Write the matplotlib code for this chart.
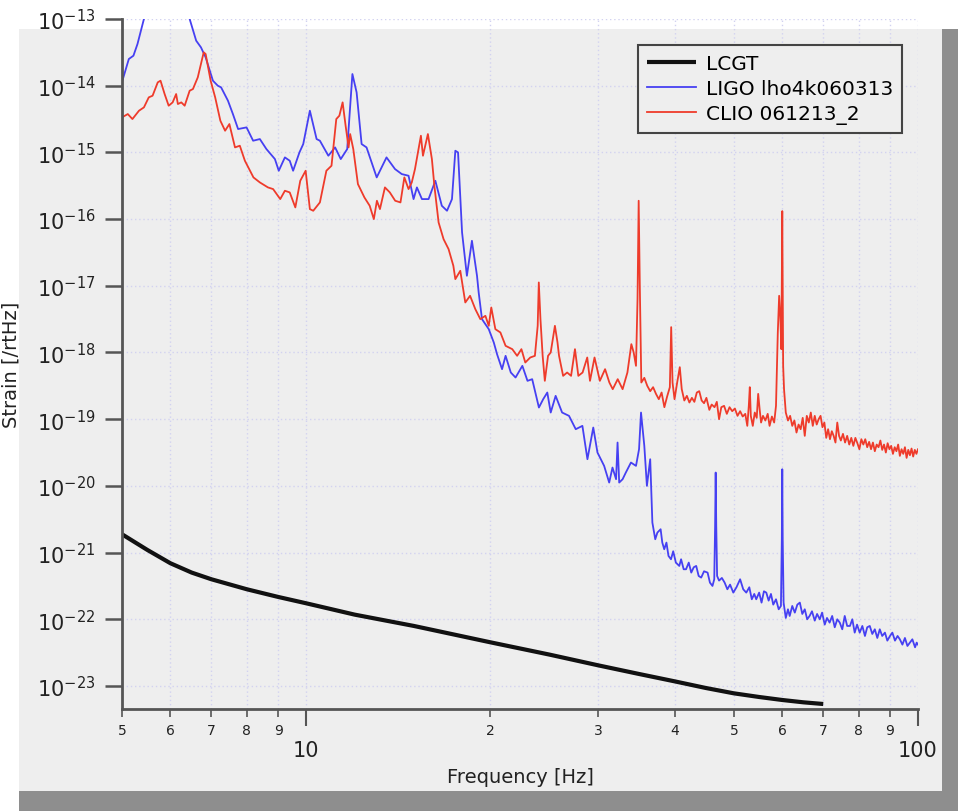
import numpy as np
import matplotlib
matplotlib.use("Agg")
import matplotlib.pyplot as plt
from matplotlib.patches import Rectangle
from matplotlib.ticker import FixedLocator, FixedFormatter, LogLocator, NullLocator

plt.rcParams['font.family'] = ['DejaVu Sans']
plt.rcParams['mathtext.default'] = 'regular'

# values: frequency in Hz, strain given as log10
lcgt_freq = [5.0, 5.5, 6.0, 6.5, 7.0, 8.0, 9.0, 10.0, 12.0, 15.0, 20.0, 25.0,
             30.0, 35.0, 40.0, 45.0, 50.0, 55.0, 60.0, 65.0, 70.0]
lcgt_log10 = [-20.725, -20.96, -21.16, -21.30, -21.40, -21.55, -21.665, -21.76,
              -21.93, -22.10, -22.345, -22.53, -22.69, -22.82, -22.93, -23.03,
              -23.11, -23.165, -23.21, -23.245, -23.27]

ligo_freq = [5.0, 5.13, 5.22, 5.30, 5.43, 5.6, 6.0, 6.3, 6.45, 6.61, 6.73, 6.85,
             7.04, 7.17, 7.26, 7.45, 7.59, 7.74, 7.99, 8.19, 8.40, 8.61, 8.89,
             9.02, 9.23, 9.40, 9.52, 9.75, 9.89, 10.14, 10.40, 10.53, 10.87,
             11.15, 11.39, 11.67, 11.90, 12.09, 12.32, 12.55, 13.04, 13.53,
             13.97, 14.33, 14.70, 14.98, 15.17, 15.46, 15.85, 16.26, 16.66,
             16.99, 17.31, 17.53, 17.71, 17.98, 18.31, 18.66, 19.02, 19.14,
             19.38, 19.88, 20.26, 20.51, 20.90, 21.18, 21.6, 21.99, 22.56, 23.0,
             23.41, 24.01, 24.4, 24.78, 25.10, 25.57, 26.2, 26.89, 27.58, 28.28,
             28.82, 29.46, 29.93, 30.69, 31.28, 31.67, 32.1, 32.28, 32.48, 32.9,
             33.3, 33.95, 34.6, 35.0, 35.26, 35.7, 36.05, 36.5, 36.8, 37.2,
             37.5, 37.96, 38.2, 38.48, 38.8, 39.1, 39.47, 39.8, 40.2, 40.72,
             41.0, 41.4, 41.77, 42.2, 42.6, 43.0, 43.4, 43.8, 44.22, 44.7, 45.3,
             45.7, 46.14, 46.45, 46.6, 46.7, 46.8, 46.95, 47.3, 47.8, 48.3, 48.8,
             49.3, 49.9, 50.5, 51.2, 51.8, 52.4, 53.0, 53.5, 54.0, 54.4, 55.0,
             55.5, 56.0, 56.5, 57.0, 57.5, 58.0, 58.6, 59.2, 59.7, 59.9, 60.0,
             60.1, 60.3, 60.8, 61.3, 61.7, 62.3, 62.9, 63.5, 64.1, 64.7, 65.3,
             65.9, 66.5, 67.1, 67.8, 68.4, 69.1, 69.7, 70.4, 71.0, 71.7, 72.4,
             73.1, 73.8, 74.5, 75.2, 75.9, 76.6, 77.4, 78.1, 78.8, 79.5, 80.3,
             81.1, 81.9, 82.6, 83.4, 84.2, 85.0, 85.8, 86.6, 87.4, 88.3, 89.1,
             90.0, 90.8, 91.7, 92.6, 93.4, 94.3, 95.2, 96.1, 97.0, 97.9, 98.9,
             99.5, 100.0]
ligo_log10 = [-13.945, -13.60, -13.55, -13.375, -13.00, -12.70, -12.55, -12.75,
              -13.00, -13.325, -13.425, -13.575, -13.925, -14.00, -14.025,
              -14.225, -14.425, -14.65, -14.625, -14.825, -14.80, -14.95, -15.10,
              -15.275, -15.075, -15.125, -15.275, -15.00, -14.875, -14.375,
              -14.80, -14.825, -15.05, -14.925, -15.10, -14.95, -13.825, -14.10,
              -14.875, -14.925, -15.375, -15.075, -15.25, -15.325, -15.35,
              -15.70, -15.525, -15.70, -15.70, -15.425, -15.80, -15.875, -15.70,
              -14.975, -15.00, -16.20, -16.85, -16.325, -16.85, -17.10, -17.50,
              -17.65, -17.85, -18.025, -18.25, -18.05, -18.30, -18.375, -18.20,
              -18.425, -18.40, -18.825, -18.70, -18.60, -18.90, -18.65, -18.90,
              -18.95, -19.15, -19.10, -19.60, -19.125, -19.50, -19.70, -19.95,
              -19.725, -19.90, -19.35, -19.95, -19.90, -19.80, -19.65, -19.70,
              -19.45, -18.90, -19.40, -20.00, -19.60, -20.55, -20.80, -20.70,
              -20.65, -20.85, -20.95, -20.85, -21.05, -21.10, -20.98, -21.15,
              -21.20, -21.10, -21.25, -21.25, -21.15, -21.30, -21.22, -21.20,
              -21.35, -21.375, -21.28, -21.30, -21.45, -21.50, -21.40, -20.60,
              -19.80, -20.60, -21.35, -21.42, -21.38, -21.45, -21.55, -21.48,
              -21.60, -21.52, -21.40, -21.55, -21.60, -21.52, -21.70, -21.62,
              -21.70, -21.60, -21.75, -21.58, -21.60, -21.72, -21.62, -21.78,
              -21.70, -21.85, -21.80, -20.80, -19.75, -20.80, -21.75, -21.98,
              -21.85, -21.95, -21.80, -21.90, -21.78, -21.75, -21.92, -21.85,
              -22.00, -21.95, -21.88, -22.02, -21.92, -22.00, -21.90, -22.08,
              -21.98, -22.05, -21.95, -22.12, -22.00, -22.05, -22.15, -21.95,
              -22.10, -22.10, -22.00, -22.20, -22.08, -22.20, -22.10, -22.25,
              -22.12, -22.10, -22.22, -22.15, -22.28, -22.15, -22.25, -22.20,
              -22.32, -22.25, -22.20, -22.32, -22.25, -22.30, -22.38, -22.28,
              -22.40, -22.35, -22.30, -22.42, -22.35, -22.38]

clio_freq = [5.0, 5.11, 5.2, 5.33, 5.43, 5.53, 5.61, 5.72, 5.78, 5.87, 5.96,
             6.05, 6.13, 6.17, 6.25, 6.33, 6.45, 6.53, 6.65, 6.80, 6.85, 6.98,
             7.1, 7.24, 7.37, 7.49, 7.65, 7.79, 7.94, 8.20, 8.40, 8.66, 8.83,
             9.07, 9.23, 9.40, 9.60, 9.78, 9.98, 10.14, 10.27, 10.53, 10.79,
             11.0, 11.2, 11.33, 11.47, 11.6, 11.73, 11.8, 11.94, 12.15, 12.45,
             12.7, 12.9, 13.05, 13.2, 13.45, 13.7, 13.98, 14.26, 14.47, 14.7,
             14.88, 15.06, 15.4, 15.52, 15.81, 16.05, 16.2, 16.46, 16.77, 17.09,
             17.4, 17.53, 17.86, 18.2, 18.53, 18.9, 19.26, 19.63, 19.88, 20.07,
             20.38, 20.77, 21.18, 21.72, 22.12, 22.48, 22.81, 23.24, 23.65, 23.9,
             24.0, 24.15, 24.35, 24.55, 24.85, 25.1, 25.3, 25.5, 25.75, 25.9,
             26.3, 26.7, 27.1, 27.5, 27.85, 28.3, 28.8, 29.1, 29.6, 30.2, 30.8,
             31.3, 31.7, 32.3, 32.9, 33.5, 34.0, 34.3, 34.6, 34.8, 34.95, 35.1,
             35.3, 35.7, 36.1, 36.5, 36.9, 37.3, 37.7, 38.1, 38.5, 38.9, 39.3,
             39.5, 39.7, 40.0, 40.4, 40.8, 41.1, 41.5, 41.9, 42.3, 42.7, 43.1,
             43.5, 43.9, 44.3, 44.7, 45.1, 45.6, 46.0, 46.5, 46.9, 47.3, 47.7,
             48.2, 48.7, 49.2, 49.7, 50.2, 50.7, 51.2, 51.7, 52.2, 52.6, 52.9,
             53.1, 53.3, 53.7, 54.1, 54.5, 54.8, 55.1, 55.4, 55.8, 56.3, 56.8,
             57.2, 57.7, 58.2, 58.6, 59.0, 59.3, 59.55, 59.8, 60.0, 60.2, 60.4,
             60.8, 61.3, 61.8, 62.3, 62.8, 63.3, 63.8, 64.3, 64.8, 65.3, 65.8,
             66.3, 66.8, 67.3, 67.8, 68.3, 68.8, 69.3, 69.8, 70.3, 70.8, 71.3,
             71.8, 72.3, 72.8, 73.3, 73.8, 74.3, 74.8, 75.4, 76.0, 76.6, 77.2,
             77.8, 78.4, 79.0, 79.6, 80.2, 80.8, 81.4, 82.0, 82.6, 83.2, 83.8,
             84.4, 85.0, 85.6, 86.2, 86.8, 87.4, 88.0, 88.6, 89.2, 89.8, 90.4,
             91.0, 91.6, 92.2, 92.8, 93.4, 94.0, 94.6, 95.2, 95.8, 96.4, 97.0,
             97.6, 98.2, 98.8, 99.4, 100.0]
clio_log10 = [-14.475, -14.425, -14.50, -14.375, -14.325, -14.175, -14.15,
              -13.95, -13.925, -14.125, -14.30, -14.25, -14.125, -14.275, -14.25,
              -14.30, -14.075, -14.05, -13.875, -13.50, -13.525, -13.925,
              -14.175, -14.525, -14.675, -14.575, -14.925, -14.90, -15.125,
              -15.375, -15.45, -15.525, -15.55, -15.70, -15.575, -15.60, -15.825,
              -15.425, -15.275, -15.85, -15.875, -15.75, -15.275, -15.20, -14.50,
              -14.45, -14.25, -14.60, -14.925, -14.725, -14.95, -15.475, -15.675,
              -15.80, -16.00, -15.725, -15.85, -15.525, -15.60, -15.725, -15.75,
              -15.375, -15.55, -15.45, -15.25, -14.75, -15.05, -14.725, -15.10,
              -15.50, -16.05, -16.30, -16.45, -16.70, -16.90, -16.775, -17.25,
              -17.15, -17.35, -17.50, -17.45, -17.60, -17.325, -17.65, -17.70,
              -17.90, -17.95, -18.05, -17.95, -18.15, -18.075, -18.05, -17.60,
              -16.95, -17.50, -18.05, -18.425, -18.05, -18.00, -17.80, -17.60,
              -17.85, -18.05, -18.35, -18.30, -18.35, -17.95, -18.35, -18.30,
              -18.075, -18.425, -18.075, -18.425, -18.25, -18.45, -18.55, -18.40,
              -18.55, -18.30, -17.875, -18.00, -18.20, -17.20, -15.725, -17.00,
              -18.45, -18.38, -18.50, -18.58, -18.52, -18.62, -18.70, -18.60,
              -18.82, -18.66, -18.52, -17.62, -18.45, -18.70, -18.45, -18.22,
              -18.55, -18.72, -18.65, -18.75, -18.68, -18.74, -18.60, -18.58,
              -18.72, -18.76, -18.68, -18.86, -18.78, -18.82, -18.74, -19.00,
              -18.82, -18.80, -18.92, -18.82, -18.88, -18.84, -18.95, -18.88,
              -18.96, -18.92, -19.10, -18.80, -18.52, -18.95, -19.10, -18.90,
              -18.98, -18.62, -18.85, -19.05, -18.95, -19.02, -18.92, -19.10,
              -18.96, -19.05, -18.80, -17.70, -17.15, -17.45, -17.95, -15.88,
              -18.20, -18.55, -18.90, -19.02, -18.95, -19.10, -19.02, -19.20,
              -19.08, -19.15, -18.98, -19.25, -18.95, -19.05, -18.90, -19.10,
              -18.95, -19.08, -19.00, -18.95, -19.12, -19.05, -19.28, -19.15,
              -19.30, -19.18, -19.25, -19.35, -19.05, -19.25, -19.32, -19.22,
              -19.35, -19.25, -19.38, -19.28, -19.40, -19.28, -19.36, -19.45,
              -19.30, -19.38, -19.30, -19.42, -19.34, -19.45, -19.35, -19.48,
              -19.38, -19.42, -19.32, -19.46, -19.38, -19.50, -19.36, -19.45,
              -19.40, -19.52, -19.42, -19.48, -19.38, -19.55, -19.45, -19.52,
              -19.42, -19.58, -19.46, -19.54, -19.44, -19.56, -19.46, -19.52,
              -19.45]

major_x = [10, 100]
major_x_labels = ['10', '100']
minor_x = [5, 6, 7, 8, 9, 20, 30, 40, 50, 60, 70, 80, 90]
minor_x_labels = ['5', '6', '7', '8', '9', '2', '3', '4', '5', '6', '7', '8', '9']

fig = plt.figure(figsize=(9.58, 8.12), dpi=100, facecolor='white')
# window panel with its drop shadow
W, H = 958.0, 812.0
fig.patches.append(Rectangle((19 / W, 0), 1 - 19 / W, (H - 30) / H,
                             transform=fig.transFigure, facecolor='#8e8e8e',
                             edgecolor='none', zorder=-20))
fig.patches.append(Rectangle((19 / W, 20 / H), (942 - 19) / W, (792 - 30) / H,
                             transform=fig.transFigure, facecolor='#eeeeee',
                             edgecolor='none', zorder=-19))

ax = fig.add_axes([122 / W, 1 - 710 / H, (918 - 122) / W, (710 - 20) / H])
ax.set_facecolor('none')

ax.loglog(lcgt_freq, 10.0 ** np.array(lcgt_log10), color='#111111', lw=3.0,
          label='LCGT', solid_capstyle='butt')
ax.loglog(ligo_freq, 10.0 ** np.array(ligo_log10), color='#4640f2', lw=1.3,
          label='LIGO lho4k060313')
ax.loglog(clio_freq, 10.0 ** np.array(clio_log10), color='#ee3b2b', lw=1.3,
          label='CLIO 061213_2')

ax.set_xlim(5, 100)
ax.set_ylim(10 ** -23.345, 1e-13)

ax.xaxis.set_major_locator(FixedLocator(major_x))
ax.xaxis.set_major_formatter(FixedFormatter(major_x_labels))
ax.xaxis.set_minor_locator(FixedLocator(minor_x))
ax.xaxis.set_minor_formatter(FixedFormatter(minor_x_labels))
ax.yaxis.set_major_locator(LogLocator(base=10, numticks=20))
ax.yaxis.set_minor_locator(NullLocator())

ax.tick_params(axis='x', which='major', direction='out', length=12, width=1.5,
               color='#555555', labelcolor='#222222', labelsize=15, pad=10)
ax.tick_params(axis='x', which='minor', direction='out', length=6, width=1.2,
               color='#555555', labelcolor='#222222', labelsize=10, pad=4)
ax.tick_params(axis='y', which='major', direction='out', length=12, width=1.8,
               color='#555555', labelcolor='#222222', labelsize=15, pad=7)

ax.grid(True, which='both', axis='x', color='#d2d2f0', linestyle=(0, (1, 2)), lw=1)
ax.grid(True, which='major', axis='y', color='#d2d2f0', linestyle=(0, (1, 2)), lw=1)

for side in ['top', 'right']:
    ax.spines[side].set_visible(False)
for side in ['left', 'bottom']:
    ax.spines[side].set_color('#555555')
    ax.spines[side].set_linewidth(2)

ax.set_xlabel('Frequency [Hz]', fontsize=14, color='#222222')
ax.xaxis.set_label_coords(0.5, -0.084)
ax.set_ylabel('Strain [/rtHz]', fontsize=14, color='#222222')
ax.yaxis.set_label_coords(-0.128, 0.5)

leg = ax.legend(loc='upper right', bbox_to_anchor=(0.98, 0.962), fontsize=14.5,
                frameon=True, fancybox=False, facecolor='#eeeeee',
                edgecolor='#444444', framealpha=1, handlelength=2.4,
                handletextpad=0.5, labelspacing=0.3, borderpad=0.45,
                borderaxespad=0)
leg.get_frame().set_linewidth(1.5)

fig.savefig('out.png', dpi=100, facecolor='white')
